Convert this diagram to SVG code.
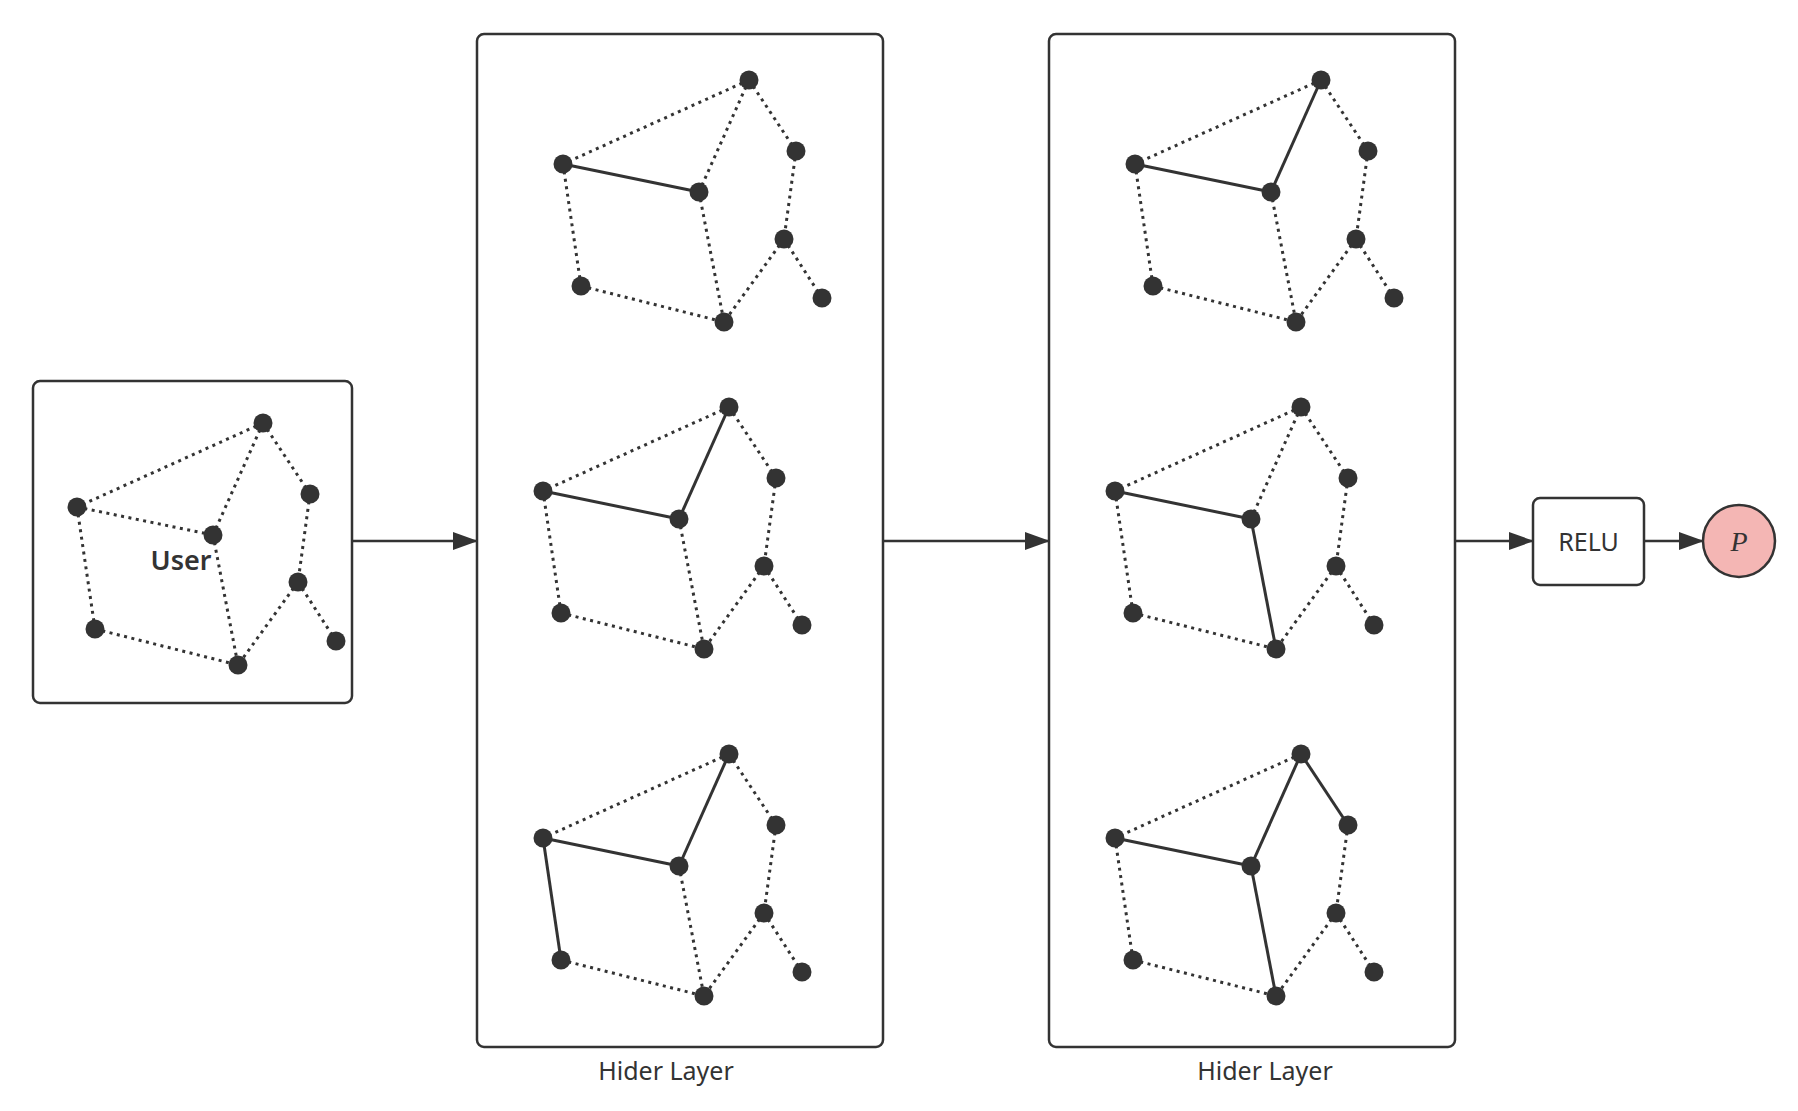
<svg xmlns="http://www.w3.org/2000/svg" width="1798" height="1111" viewBox="0 0 1798 1111">
<style>
.box{fill:#fff;stroke:#333;stroke-width:2.5}
.d{stroke:#333;stroke-width:3;stroke-dasharray:3 4.5;fill:none}
.s{stroke:#333;stroke-width:3;fill:none}
.n{fill:#333}
.t{font-family:"Noto Sans","Open Sans",sans-serif;fill:#333}
.c{stroke:#333;stroke-width:2.5;fill:none}
</style>
<defs>
<marker id="ar" markerWidth="25" markerHeight="18" refX="24" refY="9" orient="auto" markerUnits="userSpaceOnUse" viewBox="0 0 25 18">
<path d="M0,0 L25,9 L0,18 Z" fill="#333"/>
</marker>
<g id="nodes">
<circle class="n" cx="263" cy="423" r="9.5"/><circle class="n" cx="77" cy="507" r="9.5"/><circle class="n" cx="213" cy="535" r="9.5"/><circle class="n" cx="310" cy="494" r="9.5"/><circle class="n" cx="298" cy="582" r="9.5"/><circle class="n" cx="95" cy="629" r="9.5"/><circle class="n" cx="238" cy="665" r="9.5"/><circle class="n" cx="336" cy="641" r="9.5"/>
</g>
</defs>
<g id="user">
<rect class="box" x="33" y="381" width="319" height="322" rx="7"/>
<line class="d" x1="263" y1="423" x2="77" y2="507"/><line class="d" x1="263" y1="423" x2="213" y2="535"/><line class="d" x1="263" y1="423" x2="310" y2="494"/><line class="d" x1="77" y1="507" x2="213" y2="535"/><line class="d" x1="77" y1="507" x2="95" y2="629"/><line class="d" x1="213" y1="535" x2="238" y2="665"/><line class="d" x1="310" y1="494" x2="298" y2="582"/><line class="d" x1="298" y1="582" x2="238" y2="665"/><line class="d" x1="298" y1="582" x2="336" y2="641"/><line class="d" x1="95" y1="629" x2="238" y2="665"/>
<use href="#nodes"/>
<text class="t" x="181" y="570" font-size="27" font-weight="600" text-anchor="middle">User</text>
</g>
<g id="hider1">
<rect class="box" x="477" y="34" width="406" height="1013" rx="7"/>
<text class="t" x="666" y="1080" font-size="25" text-anchor="middle">Hider Layer</text>
<g transform="translate(486,-343)">
<line class="d" x1="263" y1="423" x2="77" y2="507"/><line class="d" x1="263" y1="423" x2="213" y2="535"/><line class="d" x1="263" y1="423" x2="310" y2="494"/><line class="s" x1="77" y1="507" x2="213" y2="535"/><line class="d" x1="77" y1="507" x2="95" y2="629"/><line class="d" x1="213" y1="535" x2="238" y2="665"/><line class="d" x1="310" y1="494" x2="298" y2="582"/><line class="d" x1="298" y1="582" x2="238" y2="665"/><line class="d" x1="298" y1="582" x2="336" y2="641"/><line class="d" x1="95" y1="629" x2="238" y2="665"/>
<use href="#nodes"/></g>
<g transform="translate(466,-16)">
<line class="d" x1="263" y1="423" x2="77" y2="507"/><line class="s" x1="263" y1="423" x2="213" y2="535"/><line class="d" x1="263" y1="423" x2="310" y2="494"/><line class="s" x1="77" y1="507" x2="213" y2="535"/><line class="d" x1="77" y1="507" x2="95" y2="629"/><line class="d" x1="213" y1="535" x2="238" y2="665"/><line class="d" x1="310" y1="494" x2="298" y2="582"/><line class="d" x1="298" y1="582" x2="238" y2="665"/><line class="d" x1="298" y1="582" x2="336" y2="641"/><line class="d" x1="95" y1="629" x2="238" y2="665"/>
<use href="#nodes"/></g>
<g transform="translate(466,331)">
<line class="d" x1="263" y1="423" x2="77" y2="507"/><line class="s" x1="263" y1="423" x2="213" y2="535"/><line class="d" x1="263" y1="423" x2="310" y2="494"/><line class="s" x1="77" y1="507" x2="213" y2="535"/><line class="s" x1="77" y1="507" x2="95" y2="629"/><line class="d" x1="213" y1="535" x2="238" y2="665"/><line class="d" x1="310" y1="494" x2="298" y2="582"/><line class="d" x1="298" y1="582" x2="238" y2="665"/><line class="d" x1="298" y1="582" x2="336" y2="641"/><line class="d" x1="95" y1="629" x2="238" y2="665"/>
<use href="#nodes"/></g>
</g>
<g id="hider2">
<rect class="box" x="1049" y="34" width="406" height="1013" rx="7"/>
<text class="t" x="1265" y="1080" font-size="25" text-anchor="middle">Hider Layer</text>
<g transform="translate(1058,-343)">
<line class="d" x1="263" y1="423" x2="77" y2="507"/><line class="s" x1="263" y1="423" x2="213" y2="535"/><line class="d" x1="263" y1="423" x2="310" y2="494"/><line class="s" x1="77" y1="507" x2="213" y2="535"/><line class="d" x1="77" y1="507" x2="95" y2="629"/><line class="d" x1="213" y1="535" x2="238" y2="665"/><line class="d" x1="310" y1="494" x2="298" y2="582"/><line class="d" x1="298" y1="582" x2="238" y2="665"/><line class="d" x1="298" y1="582" x2="336" y2="641"/><line class="d" x1="95" y1="629" x2="238" y2="665"/>
<use href="#nodes"/></g>
<g transform="translate(1038,-16)">
<line class="d" x1="263" y1="423" x2="77" y2="507"/><line class="d" x1="263" y1="423" x2="213" y2="535"/><line class="d" x1="263" y1="423" x2="310" y2="494"/><line class="s" x1="77" y1="507" x2="213" y2="535"/><line class="d" x1="77" y1="507" x2="95" y2="629"/><line class="s" x1="213" y1="535" x2="238" y2="665"/><line class="d" x1="310" y1="494" x2="298" y2="582"/><line class="d" x1="298" y1="582" x2="238" y2="665"/><line class="d" x1="298" y1="582" x2="336" y2="641"/><line class="d" x1="95" y1="629" x2="238" y2="665"/>
<use href="#nodes"/></g>
<g transform="translate(1038,331)">
<line class="d" x1="263" y1="423" x2="77" y2="507"/><line class="s" x1="263" y1="423" x2="213" y2="535"/><line class="s" x1="263" y1="423" x2="310" y2="494"/><line class="s" x1="77" y1="507" x2="213" y2="535"/><line class="d" x1="77" y1="507" x2="95" y2="629"/><line class="s" x1="213" y1="535" x2="238" y2="665"/><line class="d" x1="310" y1="494" x2="298" y2="582"/><line class="d" x1="298" y1="582" x2="238" y2="665"/><line class="d" x1="298" y1="582" x2="336" y2="641"/><line class="d" x1="95" y1="629" x2="238" y2="665"/>
<use href="#nodes"/></g>
</g>
<g id="relu">
<rect class="box" x="1533" y="498" width="111" height="87" rx="7"/>
<text class="t" x="1588.5" y="551" font-size="25" text-anchor="middle">RELU</text>
</g>
<g id="p">
<circle cx="1739" cy="541" r="36" fill="#f4b6b4" stroke="#333" stroke-width="2.5"/>
<text x="1739" y="551" font-size="28" font-style="italic" text-anchor="middle" font-family="Liberation Serif,serif" fill="#333">P</text>
</g>
<g id="connectors">
<line class="c" x1="352" y1="541" x2="477" y2="541" marker-end="url(#ar)"/>
<line class="c" x1="883" y1="541" x2="1049" y2="541" marker-end="url(#ar)"/>
<line class="c" x1="1455" y1="541" x2="1533" y2="541" marker-end="url(#ar)"/>
<line class="c" x1="1644" y1="541" x2="1703" y2="541" marker-end="url(#ar)"/>
</g>
</svg>
